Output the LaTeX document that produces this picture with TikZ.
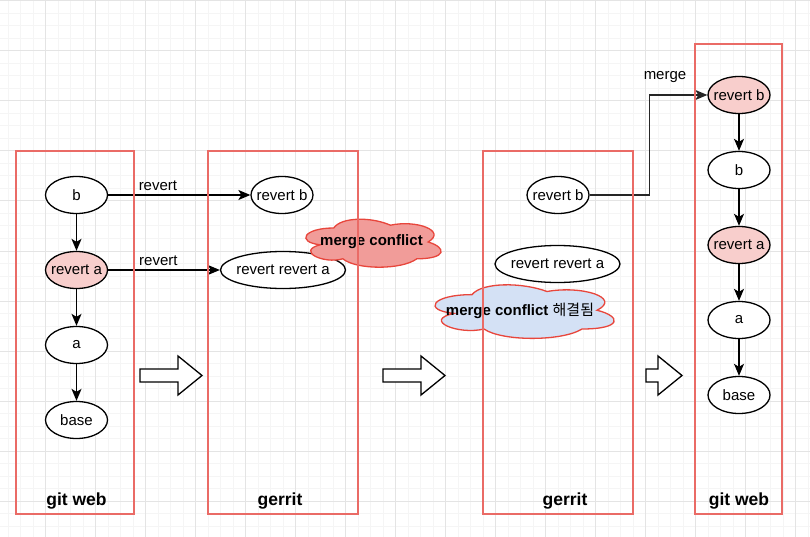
\documentclass[tikz,border=0pt]{standalone}
\usepackage{fontspec}
\setmainfont{Liberation Sans}
\newfontfamily\krfont{Noto Sans CJK KR}
\usetikzlibrary{shapes.geometric,arrows.meta}

\definecolor{laneRed}{RGB}{234,107,102}
\definecolor{revFill}{RGB}{248,206,204}
\definecolor{conflictFill}{RGB}{241,156,153}
\definecolor{solvedFill}{RGB}{212,225,245}
\definecolor{cloudLine}{RGB}{232,70,60}
\definecolor{gridMinor}{RGB}{245,245,245}
\definecolor{gridMajor}{RGB}{228,228,228}

\tikzset{
  commit/.style={ellipse, draw, fill=white, line width=1.3pt, minimum width=62pt,
    minimum height=37pt, inner xsep=-7pt, inner ysep=0pt, font=\fontsize{15}{18}\selectfont},
  revcommit/.style={commit, fill=revFill},
  lane/.style={draw=laneRed, line width=1.6pt},
  lanelbl/.style={font=\fontsize{17.5}{21}\selectfont\bfseries},
  cloudline/.style={draw=cloudLine, line width=1.3pt},
  cloudlbl/.style={font=\fontsize{15}{18}\selectfont\bfseries},
  link/.style={-{Stealth[length=12pt,width=10pt,inset=3pt]}, line width=1.4pt},
  edgelbl/.style={font=\fontsize{15}{18}\selectfont},
  blockarrow/.style={draw, line width=1.3pt, fill=white, line join=miter},
}

\begin{document}
\begin{tikzpicture}[x=1pt, y=-1pt]

    % 1. Lienzo y cuadricula de fondo
    \useasboundingbox (0,0) rectangle (810,537);
    \fill[white] (0,0) rectangle (810,537);
    \foreach \gx in {8,20.5,...,808}
    \draw[gridMinor, line width=1pt] (\gx,0) -- (\gx,537);
    \foreach \gy in {1,13.5,...,536}
    \draw[gridMinor, line width=1pt] (0,\gy) -- (810,\gy);
    \foreach \gx in {45.5,95.5,...,795.5}
    \draw[gridMajor, line width=1pt] (\gx,0) -- (\gx,537);
    \foreach \gy in {1,51,...,501}
    \draw[gridMajor, line width=1pt] (0,\gy) -- (810,\gy);

    % 2. git web (antes)
    \node[commit]    (b1)  at (76.5,195) {b};
    \node[revcommit] (ra1) at (76.5,270) {revert a};
    \node[commit]    (a1)  at (76.5,345) {a};
    \node[commit]    (base1) at (76.5,420) {base};
    \draw[link] (b1) -- (ra1);
    \draw[link] (ra1) -- (a1);
    \draw[link] (a1) -- (base1);

    % 3. gerrit (conflicto)
    \node[commit] (rb2)  at (282,195) {revert b};
    \node[commit, minimum width=125pt] (rra2) at (283,270) {revert revert a};
    \draw[link] (b1) -- node[edgelbl, pos=0.35, above] {revert} (rb2);
    \draw[link] (ra1) -- node[edgelbl, pos=0.45, above] {revert} (rra2);

    % 4. gerrit (resuelto)
    \node[commit] (rb3)  at (558,195) {revert b};
    \node[commit, minimum width=125pt] (rra3) at (557.5,264) {revert revert a};

    % 5. git web (despues)
    \node[revcommit] (rb4)   at (739,95)  {revert b};
    \node[commit]    (b4)    at (739,170) {b};
    \node[revcommit] (ra4)   at (739,245) {revert a};
    \node[commit]    (a4)    at (739,320) {a};
    \node[commit]    (base4) at (739,395) {base};
    \draw[link] (rb4) -- (b4);
    \draw[link] (b4) -- (ra4);
    \draw[link] (ra4) -- (a4);
    \draw[link] (a4) -- (base4);
    \draw[link, black!85] (rb3.east) -- ++(60,0) |- (rb4.west);
    \node[edgelbl] (mergelbl) at (665,77) {merge};

    % 6. Nubes (esquina, ancho, alto, relleno)
    \foreach \cx/\cy/\cw/\ch/\cf in {296/214/151/56/conflictFill, 422/279/200/62.5/solvedFill}{
      \begin{scope}[shift={(\cx,\cy)}, x=\cw pt, y=-\ch pt]
        \draw[cloudline, fill=\cf] (0.25,0.25)
        .. controls (0.05,0.25) and (0,0.5) .. (0.16,0.55)
        .. controls (0,0.66) and (0.18,0.9) .. (0.31,0.8)
        .. controls (0.4,1) and (0.7,1) .. (0.8,0.8)
        .. controls (1,0.8) and (1,0.6) .. (0.875,0.5)
        .. controls (1,0.3) and (0.8,0.1) .. (0.625,0.2)
        .. controls (0.5,0.05) and (0.3,0.05) .. (0.25,0.25) -- cycle;
      \end{scope}
    }
    \node[cloudlbl] (cf2) at (371.5,242) {merge conflict};
    \node[cloudlbl] (cf3) at (520,310.5) {merge conflict {\krfont\mdseries 해결됨}};

    % 7. Marcos
    \draw[lane] (16,151) rectangle (134,514);
    \draw[lane] (208,151) rectangle (358,514);
    \draw[lane] (483,151) rectangle (633,514);
    \draw[lane] (695,44) rectangle (782,514);
    \node[lanelbl] (web1lbl) at (76.5,501) {git web};
    \node[lanelbl] (ger2lbl) at (280,501) {gerrit};
    \node[lanelbl] (ger3lbl) at (565,501) {gerrit};
    \node[lanelbl] (web4lbl) at (739,501) {git web};

    % 8. Flechas de paso
    \foreach \xa/\xh/\xb in {140/178/202, 383/421/445, 646/658/682}
    \draw[blockarrow] (\xa,369) -- (\xh,369) -- (\xh,356) -- (\xb,375.5)
    -- (\xh,395) -- (\xh,382) -- (\xa,382) -- cycle;

\end{tikzpicture}
\end{document}
